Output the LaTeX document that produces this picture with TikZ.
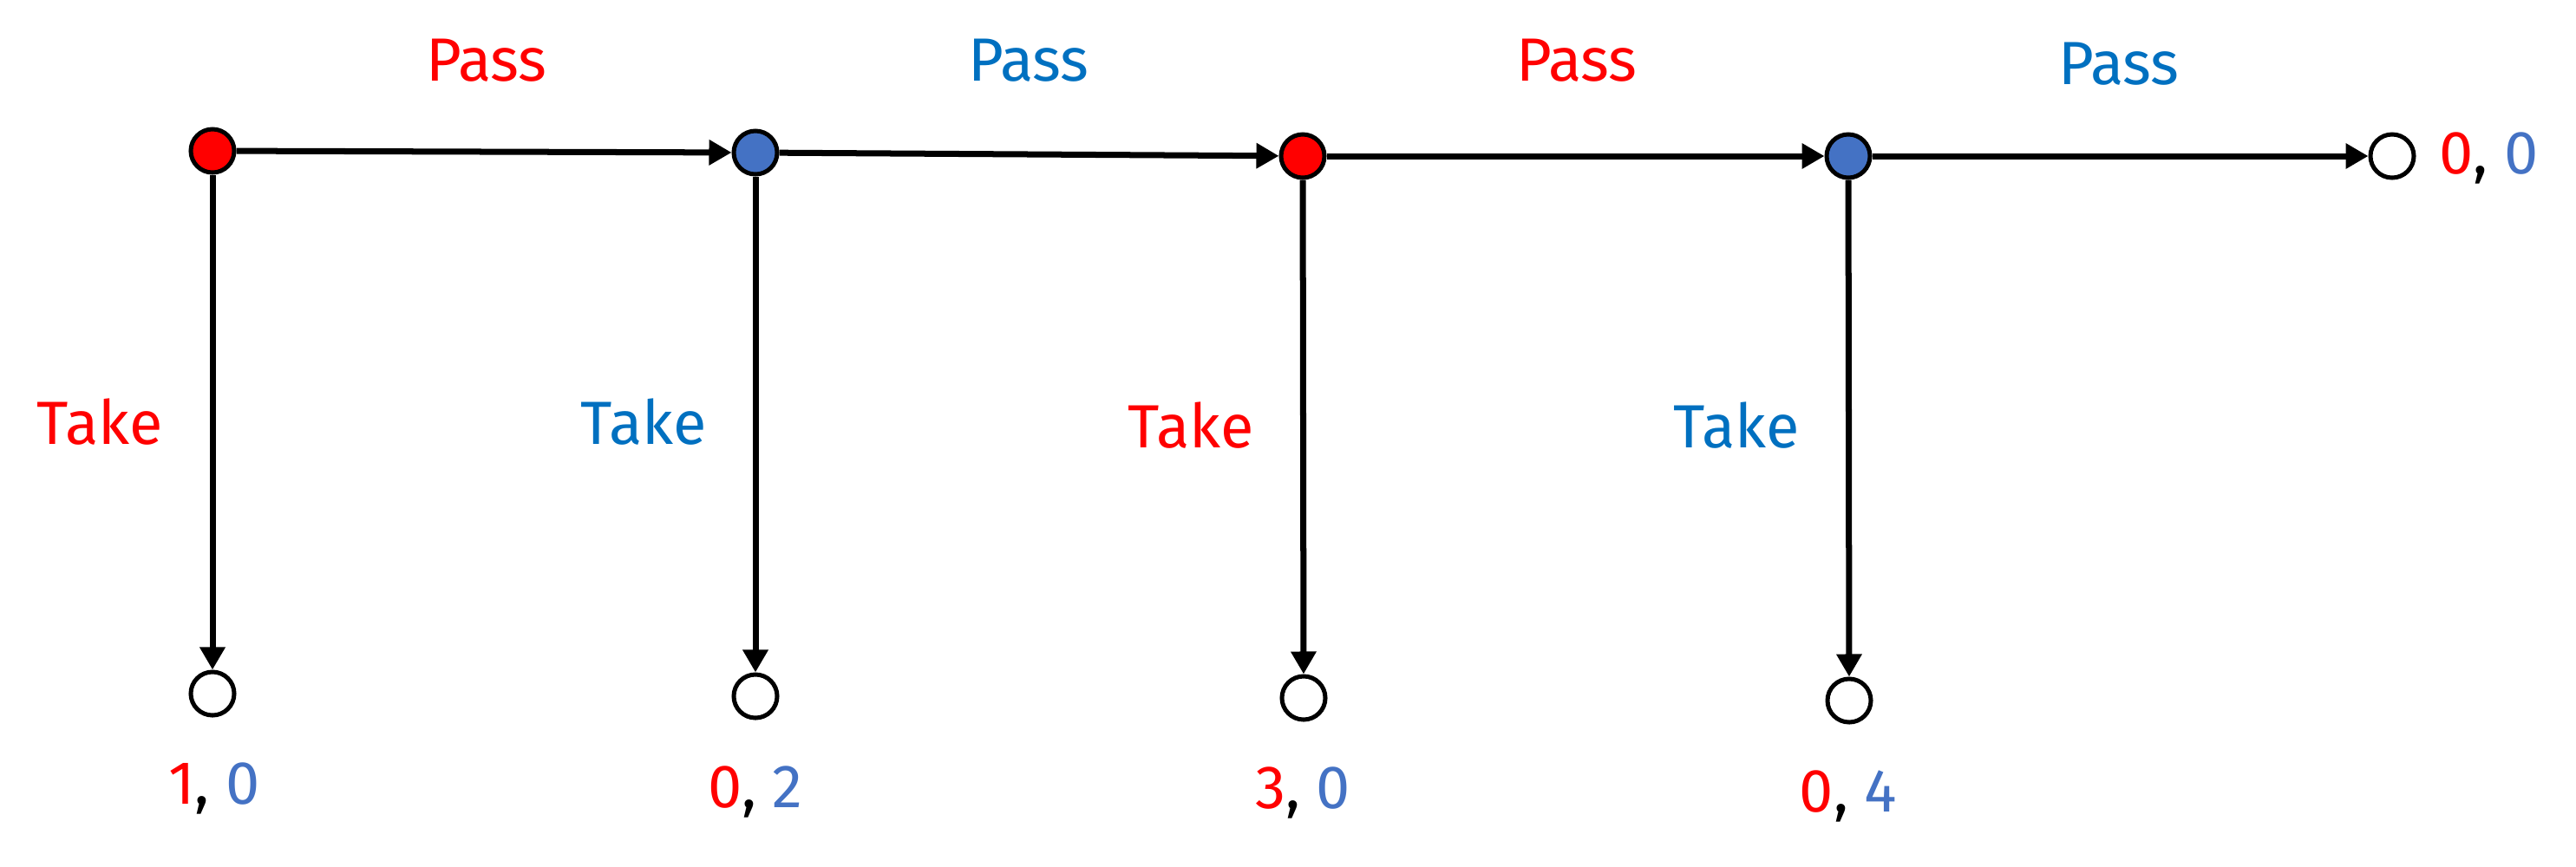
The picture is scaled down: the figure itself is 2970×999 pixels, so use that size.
\documentclass[tikz,border=0pt]{standalone}
\usepackage{fontspec}
\setmainfont{Fira Sans}
\usetikzlibrary{arrows.meta}
\definecolor{pred}{HTML}{FF0000}
\definecolor{pblue}{HTML}{0070C0}
\definecolor{nblue}{HTML}{4472C4}
\begin{document}
\begin{tikzpicture}[x=0.01cm,y=-0.01cm,
  every node/.style={font=\fontsize{20pt}{24pt}\selectfont},
  dec/.style={circle,draw=black,line width=0.05cm,minimum size=0.5cm,inner sep=0pt},
  rednode/.style={dec,fill=pred},
  bluenode/.style={dec,fill=nblue},
  leaf/.style={dec,fill=white},
  mv/.style={line width=0.07cm,-{Triangle[width=0.28cm,length=0.26cm]}},
  lbl/.style={anchor=base,inner sep=0pt},
  pay/.style={anchor=base,inner sep=0pt}]
\useasboundingbox (0,0) rectangle (2970,999);
% decision nodes
\node[rednode]  (A) at (245,174) {};
\node[bluenode] (B) at (871,176) {};
\node[rednode]  (C) at (1502,180) {};
\node[bluenode] (D) at (2131,180) {};
\node[leaf]     (E) at (2758,180) {};
% leaves
\node[leaf] (LA) at (245,800) {};
\node[leaf] (LB) at (871,803) {};
\node[leaf] (LC) at (1503,805) {};
\node[leaf] (LD) at (2132,808) {};
% edges
\draw[mv] (A) -- (B);
\draw[mv] (B) -- (C);
\draw[mv] (C) -- (D);
\draw[mv] (D) -- (E);
\draw[mv] (A) -- (LA);
\draw[mv] (B) -- (LB);
\draw[mv] (C) -- (LC);
\draw[mv] (D) -- (LD);
% Pass labels
\node[lbl,text=pred]  (p1) at (561,93) {Pass};
\node[lbl,text=pblue] (p2) at (1186,93) {Pass};
\node[lbl,text=pred]  (p3) at (1818,93) {Pass};
\node[lbl,text=pblue] (p4) at (2443,97) {Pass};
% Take labels
\node[lbl,text=pred]  (t1) at (115,512) {Take};
\node[lbl,text=pblue] (t2) at (742,512) {Take};
\node[lbl,text=pred]  (t3) at (1373,516) {Take};
\node[lbl,text=pblue] (t4) at (2002,516) {Take};
% payoffs
\node[pay] (q1) at (247,927) {\textcolor{pred}{1}, \textcolor{nblue}{0}};
\node[pay] (q2) at (871,931) {\textcolor{pred}{0}, \textcolor{nblue}{2}};
\node[pay] (q3) at (1502,932) {\textcolor{pred}{3}, \textcolor{nblue}{0}};
\node[pay] (q4) at (2131,936) {\textcolor{pred}{0}, \textcolor{nblue}{4}};
\node[pay,anchor=base west] (q5) at (2812,200) {\textcolor{pred}{0}, \textcolor{nblue}{0}};
\end{tikzpicture}
\end{document}
